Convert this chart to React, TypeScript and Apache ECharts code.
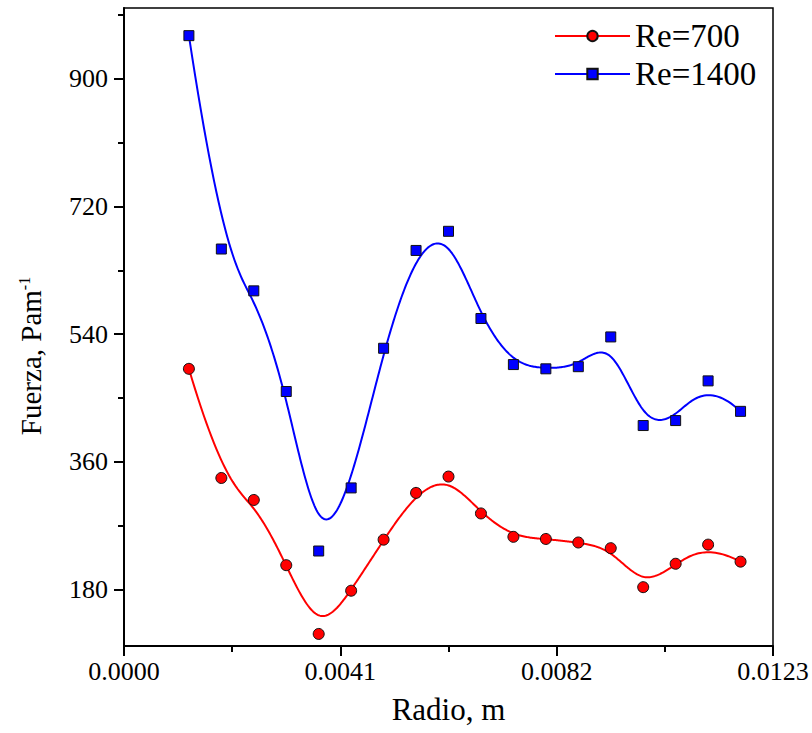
import React, { useEffect, useRef } from "react";
import * as echarts from "echarts";

const radios = [0.00123, 0.001845, 0.00246, 0.003075, 0.00369, 0.004305, 0.00492, 0.005535, 0.00615, 0.006765, 0.00738, 0.007995, 0.00861, 0.009225, 0.00984, 0.010455, 0.01107, 0.011685];
const fuerzaRe700 = [491, 337, 306, 214, 117, 178, 250, 316, 339, 287, 254, 251, 246, 238, 183, 216, 243, 219];
const fuerzaRe1400 = [961, 660, 601, 459, 234, 323, 520, 658, 685, 562, 497, 491, 494, 536, 411, 418, 474, 431];
const yMajorTicks = [180, 360, 540, 720, 900];
const yMinorTicks = [270, 450, 630, 810, 990];
const seriesNames = ["Re=700", "Re=1400"];

const FONT = "Liberation Serif";

// clamped cubic B-spline through control points (pixel space), as Origin's "B-Spline" connection
function bspline(P: number[][], samplesPerSpan: number): number[][] {
  const p = 3;
  const n = P.length - 1;
  const m = n - p + 1;
  const knots: number[] = [];
  for (let i = 0; i <= p; i++) knots.push(0);
  for (let i = 1; i < m; i++) knots.push(i);
  for (let i = 0; i <= p; i++) knots.push(m);
  const out: number[][] = [];
  const total = m * samplesPerSpan;
  for (let s = 0; s <= total; s++) {
    let t = (s / total) * m;
    if (t >= m) t = m - 1e-9;
    let k = p;
    while (k < n && !(knots[k] <= t && t < knots[k + 1])) k++;
    const d: number[][] = [];
    for (let j = 0; j <= p; j++) d.push([P[j + k - p][0], P[j + k - p][1]]);
    for (let r = 1; r <= p; r++) {
      for (let j = p; j >= r; j--) {
        const denom = knots[j + 1 + k - r] - knots[j + k - p];
        const a = denom === 0 ? 0 : (t - knots[j + k - p]) / denom;
        d[j] = [(1 - a) * d[j - 1][0] + a * d[j][0], (1 - a) * d[j - 1][1] + a * d[j][1]];
      }
    }
    out.push(d[p]);
  }
  return out;
}

function curveSeries(name: string, ys: number[], color: string) {
  return {
    type: "custom",
    name,
    silent: true,
    clip: true,
    encode: { x: 0, y: 1 },
    data: radios.map((x, i) => [x, ys[i]]),
    renderItem: (params: any, api: any) => {
      if (params.dataIndex !== 0) return null;
      const pts = radios.map((x, i) => api.coord([x, ys[i]]));
      return {
        type: "polyline",
        shape: { points: bspline(pts, 30) },
        style: { stroke: color, lineWidth: 2, fill: null },
      };
    },
  };
}

function pointSeries(name: string, ys: number[], color: string, symbol: string, size: number) {
  return {
    type: "line",
    name,
    data: radios.map((x, i) => [x, ys[i]]),
    symbol,
    symbolSize: size,
    showSymbol: true,
    showAllSymbol: true,
    lineStyle: { width: 0, opacity: 0, color },
    itemStyle: { color, borderColor: "#111", borderWidth: 1 },
    emphasis: { disabled: true },
    z: 5,
  };
}

export default function App() {
  const ref = useRef<HTMLDivElement>(null);
  useEffect(() => {
    document.body.style.margin = "0";
    const chart = echarts.init(ref.current!, undefined, { renderer: "svg" });
    chart.setOption({
      animation: false,
      backgroundColor: "#fff",
      textStyle: { fontFamily: FONT },
      grid: [
        { left: 124, right: 39, top: 8, bottom: 87, show: true, borderColor: "#000", borderWidth: 1.5, backgroundColor: "transparent" },
        { left: 124, right: 39, top: 8, bottom: 87 },
      ],
      legend: {
        left: 554,
        top: 17,
        orient: "vertical",
        padding: 0,
        itemGap: 0,
        itemWidth: 75,
        itemHeight: 13,
        textStyle: { fontFamily: FONT, fontSize: 33, color: "#000", lineHeight: 38 },
        data: [
          { name: seriesNames[0], lineStyle: { color: "#ff0000", width: 2, opacity: 1 } },
          { name: seriesNames[1], lineStyle: { color: "#0000ff", width: 2, opacity: 1 } },
        ],
      },
      xAxis: [
        {
          type: "value",
          gridIndex: 0,
          min: 0,
          max: 0.0123,
          interval: 0.0041,
          name: "Radio, m",
          nameLocation: "middle",
          nameGap: 48,
          nameTextStyle: { fontFamily: FONT, fontSize: 31, color: "#000" },
          axisLine: { show: true, lineStyle: { color: "#000", width: 2 } },
          axisTick: { show: true, inside: false, length: 10, lineStyle: { color: "#000", width: 2 } },
          minorTick: { show: true, splitNumber: 2, length: 6, lineStyle: { color: "#000", width: 2 } },
          axisLabel: { fontFamily: FONT, fontSize: 26, color: "#000", margin: 12, formatter: (v: number) => v.toFixed(4) },
          splitLine: { show: false },
          minorSplitLine: { show: false },
        },
        { type: "value", gridIndex: 1, min: 0, max: 0.0123, show: false },
      ],
      yAxis: [
        {
          type: "value",
          gridIndex: 0,
          min: 100,
          max: 1000,
          name: "Fuerza, Pam{sup|-1}",
          nameLocation: "middle",
          nameGap: 78,
          nameRotate: 90,
          nameTextStyle: {
            fontFamily: FONT,
            fontSize: 29,
            color: "#000",
            padding: [0, 58, 0, 0],
            rich: { sup: { fontFamily: FONT, fontSize: 16, color: "#000", verticalAlign: "top", lineHeight: 30 } },
          },
          axisLine: { show: true, lineStyle: { color: "#000", width: 2 } },
          axisTick: { show: true, inside: false, length: 10, customValues: yMajorTicks, lineStyle: { color: "#000", width: 2 } },
          axisLabel: { fontFamily: FONT, fontSize: 26, color: "#000", margin: 16, customValues: yMajorTicks },
          splitLine: { show: false },
        },
        {
          type: "value",
          gridIndex: 1,
          min: 100,
          max: 1000,
          axisLine: { show: false },
          axisTick: { show: true, inside: false, length: 6, customValues: yMinorTicks, lineStyle: { color: "#000", width: 2 } },
          axisLabel: { show: false },
          splitLine: { show: false },
        },
      ],
      series: [
        curveSeries("curve700", fuerzaRe700, "#ff0000"),
        curveSeries("curve1400", fuerzaRe1400, "#0000ff"),
        pointSeries(seriesNames[0], fuerzaRe700, "#ff0000", "circle", 11),
        pointSeries(seriesNames[1], fuerzaRe1400, "#0000ff", "rect", 10),
      ],
    });
    return () => chart.dispose();
  }, []);
  return <div ref={ref} style={{ width: 812, height: 733 }} />;
}
